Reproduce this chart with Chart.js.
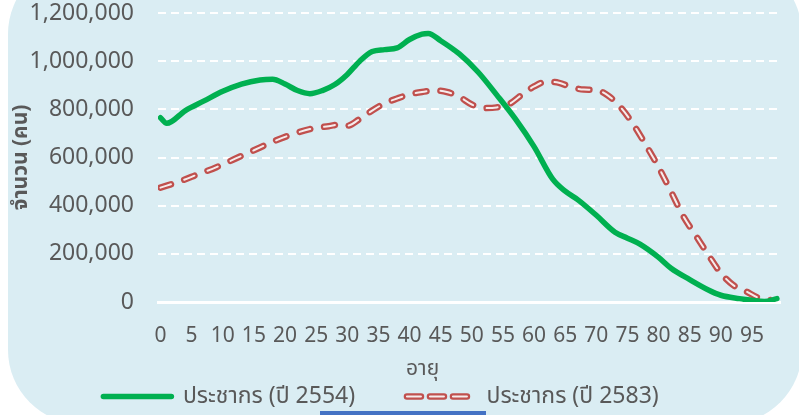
<!DOCTYPE html>
<html>
<head>
<meta charset="utf-8">
<script src="https://cdn.jsdelivr.net/npm/chart.js@4"></script>
<style>
  html, body { margin: 0; padding: 0; background: #fff; }
  #wrap { position: relative; width: 799px; height: 415px; overflow: hidden; }
  #panel { position: absolute; left: 8px; top: -40px; width: 794px; height: 464px; background: #daedf3; border-radius: 74px; }
  #bar { position: absolute; left: 320px; top: 411px; width: 166px; height: 4px; background: #4472c4; }
  canvas { position: absolute; left: 0; top: 0; }
</style>
</head>
<body>
<div id="wrap">
  <div id="panel"></div>
  <div id="bar"></div>
  <canvas id="myChart" width="799" height="415"></canvas>
</div>
<script>
// อายุ (ปี) และจำนวนประชากร
const ages2554 = [0, 1, 4, 7, 10, 13, 16, 18, 20, 22, 24, 26, 28, 30, 32, 34, 36, 38, 40, 42, 43, 45, 48, 51, 54, 57, 60, 63, 65, 67, 70, 73, 75, 77, 80, 82, 85, 88, 90, 93, 95, 97, 99];
const pop2554 = [765000, 742000, 795000, 835000, 875000, 905000, 922000, 925000, 905000, 878000, 865000, 878000, 903000, 945000, 1000000, 1040000, 1048000, 1055000, 1090000, 1112000, 1115000, 1085000, 1030000, 955000, 860000, 760000, 645000, 510000, 460000, 425000, 360000, 290000, 265000, 240000, 185000, 140000, 93000, 50000, 28000, 14000, 7000, 2000, 14000];

const ages2583 = [0, 3, 6, 9, 12, 15, 18, 21, 24, 27, 29, 30, 32, 34, 36, 38, 40, 42, 44, 46, 48, 50, 52, 54, 56, 58, 60, 62, 64, 66, 68, 70, 72, 74, 76, 78, 80, 82, 84, 86, 88, 90, 92, 94, 96, 98];
const pop2583 = [475000, 500000, 530000, 560000, 595000, 630000, 665000, 695000, 718000, 730000, 738000, 732000, 760000, 795000, 825000, 845000, 862000, 872000, 878000, 872000, 852000, 820000, 805000, 808000, 822000, 860000, 895000, 915000, 910000, 892000, 882000, 880000, 855000, 805000, 735000, 650000, 560000, 458000, 355000, 275000, 195000, 120000, 70000, 45000, 18000, 8000];

const xTickLabels = [0, 5, 10, 15, 20, 25, 30, 35, 40, 45, 50, 55, 60, 65, 70, 75, 80, 85, 90, 95];
const seriesNames = ['ประชากร (ปี 2554)', 'ประชากร (ปี 2583)'];

const toPoints = (xs, ys) => xs.map((x, i) => ({ x: x, y: ys[i] }));

const FONT = "'Noto Sans', 'Noto Sans Thai', Tahoma, sans-serif";
const GREY = '#595959';
const RED = '#c0504d';
const RED_INNER = '#f6ecec';

// ทำให้ตัวอย่างเส้นประในคำอธิบายเป็นแคปซูลเหมือนในกราฟ
const legendInner = {
  id: 'legendInner',
  afterDraw(chart) {
    const hb = chart.legend && chart.legend.legendHitBoxes[1];
    if (!hb) return;
    const c = chart.ctx;
    const y = hb.top + hb.height / 2;
    c.save();
    c.strokeStyle = RED_INNER;
    c.lineWidth = 2;
    c.lineCap = 'round';
    c.setLineDash([14, 9]);
    c.beginPath();
    c.moveTo(hb.left, y);
    c.lineTo(hb.left + 68, y);
    c.stroke();
    c.restore();
  }
};

const ctx = document.getElementById('myChart').getContext('2d');

new Chart(ctx, {
  type: 'line',
  data: {
    datasets: [{
      label: seriesNames[0],
      data: toPoints(ages2554, pop2554),
      borderColor: '#00b050',
      borderWidth: 5.5,
      borderCapStyle: 'round',
      order: 0
    }, {
      label: seriesNames[1],
      data: toPoints(ages2583, pop2583),
      borderColor: RED,
      borderWidth: 6.5,
      borderCapStyle: 'round',
      borderDash: [11, 14],
      order: 2
    }, {
      label: 'inner',
      data: toPoints(ages2583, pop2583),
      borderColor: RED_INNER,
      borderWidth: 2,
      borderCapStyle: 'round',
      borderDash: [11, 14],
      order: 1
    }]
  },
  options: {
    responsive: false,
    animation: false,
    layout: { padding: { top: 13, right: 19, left: 0, bottom: -3 } },
    elements: {
      point: { radius: 0 },
      line: { tension: 0.4, cubicInterpolationMode: 'monotone', fill: false }
    },
    scales: {
      x: {
        type: 'linear',
        min: -0.4,
        max: 99.5,
        afterBuildTicks: (scale) => { scale.ticks = xTickLabels.map(v => ({ value: v })); },
        afterFit: (scale) => { scale.height = 73; },
        grid: { display: false, drawTicks: false },
        border: { display: true, color: '#ffffff', width: 3 },
        ticks: {
          autoSkip: false,
          maxRotation: 0,
          padding: 21,
          color: GREY,
          font: { family: FONT, size: 21 }
        },
        title: {
          display: true,
          // ช่องว่างท้ายคำเลื่อนชื่อแกนไปทางซ้ายเหมือนต้นฉบับ
          text: 'อายุ' + ' '.repeat(17),
          color: GREY,
          padding: { top: 0, bottom: -7 },
          font: { family: FONT, size: 21 }
        }
      },
      y: {
        min: 0,
        max: 1200000,
        afterFit: (scale) => {
          scale.width = 158;
          scale.paddingTop = 0;
          scale.paddingBottom = 0;
        },
        grid: {
          drawTicks: false,
          lineWidth: 2,
          color: (c) => c.tick && c.tick.value === 0 ? 'rgba(0,0,0,0)' : '#ffffff'
        },
        border: { display: false, dash: [8, 5] },
        ticks: {
          stepSize: 200000,
          padding: 24,
          color: GREY,
          font: { family: FONT, size: 23 },
          callback: (v) => v.toLocaleString('en-US')
        },
        title: {
          display: true,
          text: 'จำนวน (คน)',
          color: GREY,
          padding: { top: 8, bottom: 0 },
          font: { family: FONT, size: 21, weight: 'bold' }
        }
      }
    },
    plugins: {
      tooltip: { enabled: false },
      legend: {
        position: 'bottom',
        labels: {
          usePointStyle: true,
          pointStyle: 'line',
          pointStyleWidth: 68,
          padding: 10,
          color: GREY,
          font: { family: FONT, size: 23 },
          generateLabels: (chart) => {
            const items = Chart.defaults.plugins.legend.labels.generateLabels(chart)
              .filter(it => it.datasetIndex < 2);
            items[0].text = items[0].text + '       ';
            items[1].text = items[1].text + '   ';
            items[0].lineCap = 'round';
            items[1].lineCap = 'round';
            items[1].lineDash = [14, 9];
            return items;
          }
        }
      }
    }
  },
  plugins: [legendInner]
});
</script>
</body>
</html>
